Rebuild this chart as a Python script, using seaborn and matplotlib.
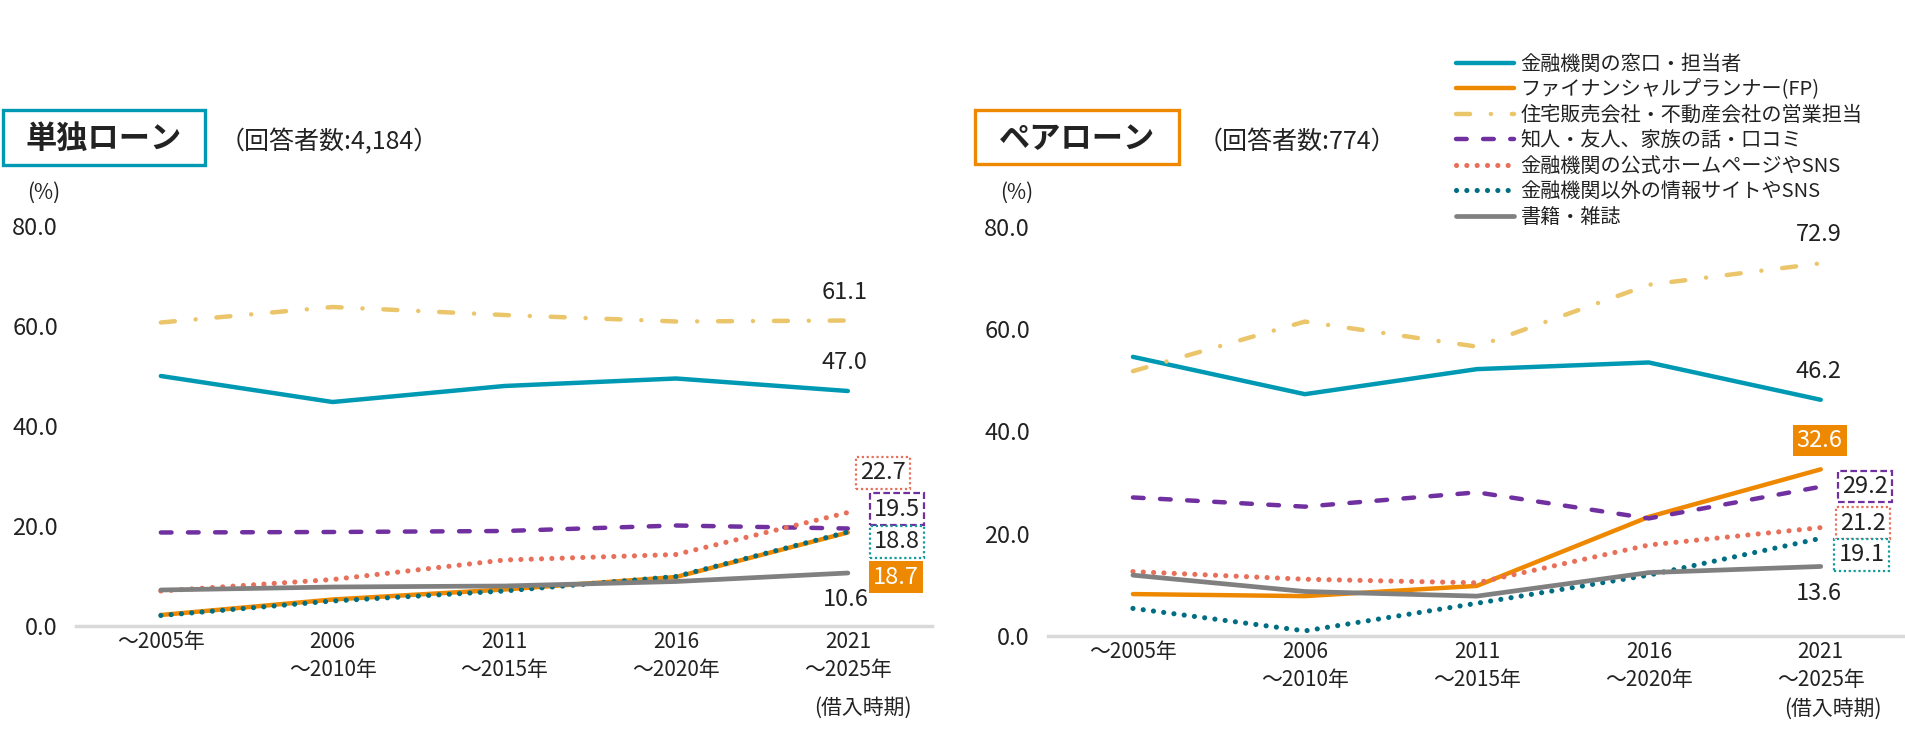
import numpy as np
import pandas as pd
import matplotlib.pyplot as plt
import seaborn as sns
from matplotlib.patches import Rectangle

# categories
periods = ['～2005年', '2006\n～2010年', '2011\n～2015年', '2016\n～2020年', '2021\n～2025年']
sources = ['金融機関の窓口・担当者', 'ファイナンシャルプランナー(FP)', '住宅販売会社・不動産会社の営業担当',
           '知人・友人、家族の話・口コミ', '金融機関の公式ホームページやSNS', '金融機関以外の情報サイトやSNS',
           '書籍・雑誌']

# 単独ローン (n=4,184)
single_madoguchi = [50.0, 44.8, 48.0, 49.5, 47.0]
single_fp = [2.2, 5.3, 7.3, 9.8, 18.7]
single_hanbai = [60.7, 63.8, 62.2, 60.9, 61.1]
single_chijin = [18.7, 18.8, 19.0, 20.1, 19.5]
single_koushiki = [7.0, 9.3, 13.2, 14.3, 22.7]
single_igai = [2.1, 5.0, 7.0, 9.9, 18.8]
single_shoseki = [7.2, 7.8, 8.0, 8.9, 10.6]

# ペアローン (n=774)
pair_madoguchi = [54.6, 47.3, 52.2, 53.5, 46.2]
pair_fp = [8.2, 7.8, 9.8, 23.3, 32.6]
pair_hanbai = [51.8, 61.5, 56.6, 68.7, 72.9]
pair_chijin = [27.1, 25.3, 28.1, 23.0, 29.2]
pair_koushiki = [12.6, 11.1, 10.4, 17.8, 21.2]
pair_igai = [5.4, 1.0, 6.4, 11.9, 19.1]
pair_shoseki = [11.9, 8.7, 7.8, 12.4, 13.6]

single_series = [single_madoguchi, single_fp, single_hanbai, single_chijin,
                 single_koushiki, single_igai, single_shoseki]
pair_series = [pair_madoguchi, pair_fp, pair_hanbai, pair_chijin,
               pair_koushiki, pair_igai, pair_shoseki]

# styles
colors = ['#0099b3', '#ee8800', '#ebc56a', '#7030a0', '#e8705a', '#006e82', '#808080']
dash_styles = ['', '', (3.15, 4.7, 0.01, 4.7), (2.4, 3.7), (0.01, 2.0), (0.01, 2.0), '']
widths = [3.2, 3.2, 3.2, 3.2, 3.7, 3.7, 3.4]
palette = dict(zip(sources, colors))
dashes = dict(zip(sources, dash_styles))
TXT = '#222222'

# label placement at the last point: (dx px, dy px, box kind)
single_labels = [(-3, 28, None), (48, -44.5, 'fill'), (-3, 27.5, None), (49, 19.5, 'dash'),
                 (35, 39.5, 'dot'), (49, -10, 'dot'), (-2, -27, None)]
pair_labels = [(-2, 28, None), (-1, 29, 'fill'), (-1.5, 29, None), (44, 0, 'dash'),
               (42, 4.6, 'dot'), (41, -16.6, 'dot'), (-1.5, -27.5, None)]
box_edge = [None, None, None, '#7030a0', '#e8705a', '#139a9a', None]

sns.set_theme(style='white')
plt.rcParams['font.family'] = ['Noto Sans CJK JP', 'DejaVu Sans']

W, H = 1905, 732
fig = plt.figure(figsize=(W / 100, H / 100), dpi=100)


def frame(series):
    rows = []
    for name, vals in zip(sources, series):
        for i, v in enumerate(vals):
            rows.append({'pos': i, 'value': v, 'source': name})
    return pd.DataFrame(rows)


def panel(rect, series, labels, show_legend):
    ax = fig.add_axes(rect)
    sns.lineplot(data=frame(series), x='pos', y='value', hue='source', style='source',
                 hue_order=sources, style_order=sources, palette=palette, dashes=dashes,
                 linewidth=3.2, legend=show_legend, ax=ax)
    for ln, lw in zip(ax.get_lines(), widths):
        ln.set_linewidth(lw)
        ln.set_dash_capstyle('round')
        ln.set_solid_capstyle('round')
        ln.set_clip_on(False)
    ax.set_xlim(-0.494, 4.49)
    ax.set_ylim(0, 80)
    ax.set_yticks([0, 20, 40, 60, 80])
    ax.set_yticklabels([f'{v:.1f}' for v in [0, 20, 40, 60, 80]])
    ax.set_xticks(range(len(periods)))
    ax.set_xticklabels(periods, linespacing=1.35)
    ax.tick_params(axis='y', length=0, pad=13, labelsize=17, colors=TXT)
    ax.tick_params(axis='x', length=0, pad=3.5, labelsize=15, colors=TXT)
    ax.set_xlabel('')
    ax.set_ylabel('')
    for s in ['top', 'right', 'left']:
        ax.spines[s].set_visible(False)
    ax.spines['bottom'].set_color('#d9d9d9')
    ax.spines['bottom'].set_linewidth(2.5)

    last = len(periods) - 1
    for i, vals in enumerate(series):
        dx, dy, kind = labels[i]
        txt_color = TXT
        bbox = None
        if kind == 'fill':
            txt_color = 'white'
            bbox = dict(boxstyle='square,pad=0.18', fc=colors[i], ec='none')
        elif kind == 'dash':
            bbox = dict(boxstyle='square,pad=0.18', fc='white', ec=box_edge[i], lw=1.6, ls=(0, (3, 1.5)))
        elif kind == 'dot':
            bbox = dict(boxstyle='square,pad=0.18', fc='white', ec=box_edge[i], lw=1.6, ls=(0, (1, 1.2)))
        ax.annotate(f'{vals[last]:.1f}', xy=(last, vals[last]), xytext=(dx * 0.72, dy * 0.72),
                    textcoords='offset points', ha='center', va='center', fontsize=17,
                    color=txt_color, bbox=bbox, zorder=5, annotation_clip=False)
    return ax


ax1 = panel([76 / W, 1 - 626 / H, 856 / W, 400 / H], single_series, single_labels, False)
ax2 = panel([1048 / W, 1 - 636 / H, 857 / W, 409 / H], pair_series, pair_labels, True)

handles, names = ax2.get_legend_handles_labels()
ax2.get_legend().remove()
leg = fig.legend(handles, names, loc='upper left', bbox_to_anchor=(1456 / W, 1 - 54 / H),
                 frameon=False, fontsize=14.5, handlelength=2.9, handletextpad=0.3,
                 labelspacing=0.22, borderpad=0, borderaxespad=0)
for ln, lw in zip(leg.get_lines(), widths):
    ln.set_linewidth(lw)
    ln.set_dash_capstyle('round')
    ln.set_solid_capstyle('round')
for t in leg.get_texts():
    t.set_color(TXT)

# title boxes
for (x0, y0, x1, y1), title, sub, sx, ec in [
        ((3, 110, 205, 165), '単独ローン', '（回答者数:4,184）', 220, '#0099b3'),
        ((975, 110, 1179, 164), 'ペアローン', '（回答者数:774）', 1198, '#ee8800')]:
    fig.patches.append(Rectangle((x0 / W, 1 - y1 / H), (x1 - x0) / W, (y1 - y0) / H,
                                 transform=fig.transFigure, fill=False, ec=ec, lw=2.4))
    fig.text((x0 + x1) / 2 / W, 1 - 139 / H, title, ha='center', va='center',
             fontsize=22.5, fontweight='bold', color=TXT)
    fig.text(sx / W, 1 - 142 / H, sub, ha='left', va='center', fontsize=18, color=TXT)

fig.text(44 / W, 1 - 193 / H, '(%)', ha='center', va='center', fontsize=15, color=TXT)
fig.text(1017 / W, 1 - 193 / H, '(%)', ha='center', va='center', fontsize=15, color=TXT)
fig.text(863 / W, 1 - 708 / H, '(借入時期)', ha='center', va='center', fontsize=15, color=TXT)
fig.text(1833 / W, 1 - 709 / H, '(借入時期)', ha='center', va='center', fontsize=15, color=TXT)

fig.savefig('out.png', dpi=100, facecolor='white')
